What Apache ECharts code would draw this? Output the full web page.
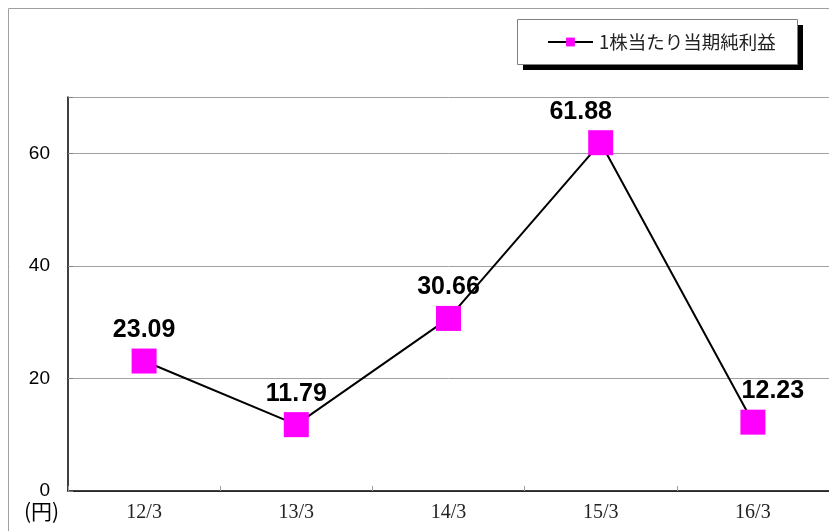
<!DOCTYPE html>
<html><head><meta charset="utf-8">
<script src="https://cdn.jsdelivr.net/npm/echarts@6/dist/echarts.min.js"></script>
<style>html,body{margin:0;padding:0;background:#fff}#c{width:829px;height:531px}</style>
</head><body><div id="c"></div>
<script>
const categories = ['12/3','13/3','14/3','15/3','16/3'];
const seriesName = '1株当たり当期純利益';
const values = [23.09, 11.79, 30.66, 61.88, 12.23];
const yTicks = [0, 20, 40, 60];

const chart = echarts.init(document.getElementById('c'));
const labelOffsets = [[0,0],[0,0],[0,0],[-20,0],[20,0]];
chart.setOption({
  animation: false,
  backgroundColor: '#fff',
  graphic: [
    { type: 'polyline', z: 0, shape: { points: [[8.5, 531], [8.5, 8.5], [829, 8.5]] }, style: { stroke: '#a0a0a0', lineWidth: 1, fill: null } },
    { type: 'rect', z: 0, shape: { x: 523, y: 25, width: 280, height: 45 }, style: { fill: '#000' } },
    { type: 'rect', z: 1, shape: { x: 517.5, y: 19.5, width: 280, height: 45 }, style: { fill: '#fff', stroke: '#808080', lineWidth: 1 } },
    { type: 'text', left: 24, top: 501, style: { text: '(円)', font: '21px "Noto Sans CJK JP"', fill: '#000' } }
  ],
  legend: {
    left: 547, top: 30, padding: 0, z: 5,
    itemWidth: 45, itemHeight: 11, itemGap: 5,
    textStyle: { fontSize: 18.5, lineHeight: 24, color: '#222', fontFamily: '"Noto Sans CJK JP"', padding: [0,0,0,1] },
    data: [seriesName]
  },
  grid: { left: 68, right: 0, top: 97, bottom: 40, containLabel: false },
  xAxis: {
    type: 'category', data: categories, boundaryGap: true,
    axisLine: { lineStyle: { color: '#000', width: 1.5 } },
    axisTick: { show: true, inside: true, length: 5, lineStyle: { color: '#a0a0a0' } },
    axisLabel: { margin: 12, fontSize: 20, color: '#222', fontFamily: '"Liberation Serif", serif' }
  },
  yAxis: {
    type: 'value', min: 0, max: 70, interval: 20,
    axisLine: { show: true, lineStyle: { color: '#000', width: 1.5 } },
    axisTick: { show: true, inside: true, length: 5, lineStyle: { color: '#808080' } },
    axisLabel: { margin: 18, fontSize: 19, color: '#000', fontFamily: '"Liberation Sans", sans-serif',
      formatter: v => yTicks.includes(v) ? String(v) : '' },
    splitLine: { show: true, lineStyle: { color: '#a0a0a0', width: 1 } }
  },
  series: [{
    name: seriesName, type: 'line',
    data: values.map((v, i) => ({ value: v, label: { offset: labelOffsets[i] } })),
    symbol: 'rect', symbolSize: 25,
    itemStyle: { color: '#ff00ff' },
    lineStyle: { color: '#000', width: 2 },
    z: 3,
    label: { show: true, position: 'top', distance: 6, fontSize: 25, fontWeight: 'bold', color: '#000',
      fontFamily: '"Liberation Sans", Arial, sans-serif' }
  }]
});
</script></body></html>
